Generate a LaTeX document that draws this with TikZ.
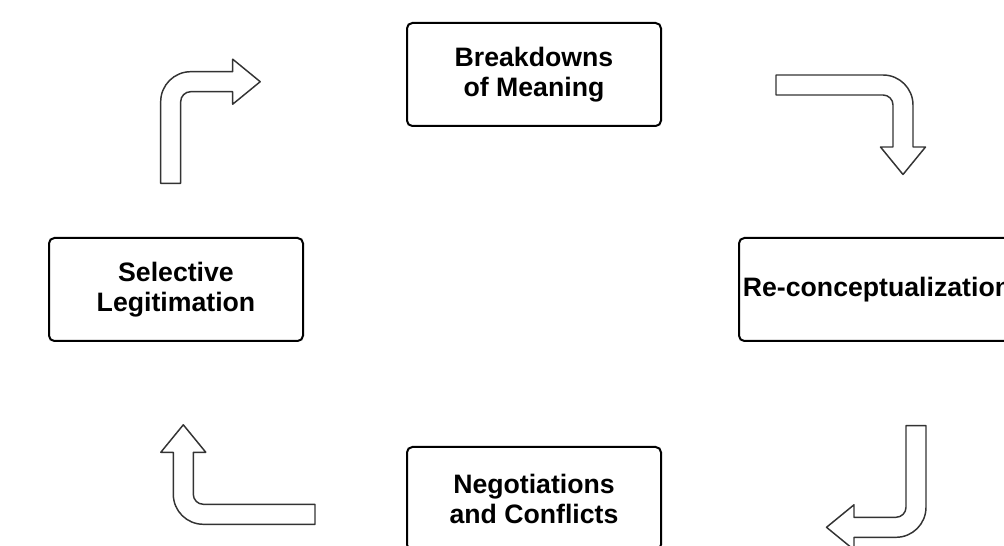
\documentclass[tikz,border=0pt]{standalone}
\usepackage{fontspec}
\setmainfont{Liberation Sans}

% bent block arrow, tail at the origin, first leg of length #1
\newcommand{\bentarrow}[1]{%
    \draw[bent arrow] (0,0) -- (0,#1-30) arc (180:90:30) -- (72,#1) -- (72,#1+12.5)
        -- (99.5,#1-10) -- (72,#1-32.5) -- (72,#1-20) -- (30,#1-20) arc (90:180:10)
        -- (20,0) -- cycle;}

\begin{document}
\begin{tikzpicture}[x=0.75pt, y=0.75pt,
    box/.style={draw, line width=1.5pt, rounded corners=4pt, minimum width=190.5pt,
        minimum height=77.25pt, align=center, inner sep=0pt,
        font=\bfseries\fontsize{20}{22.5}\selectfont},
    bent arrow/.style={draw=black!80, line width=1.1pt, line join=round}]
    \useasboundingbox (0,0) rectangle (1004,546);
    \clip (0,0) rectangle (1004,546);

    % Stages of the cycle
    \node[box] (breakdowns) at (534,471.5) {Breakdowns\\of Meaning};
    \node[box, minimum width=207pt] (reconcept) at (877,256.5) {Re-conceptualization};
    \node[box] (negotiations) at (534,47.5) {Negotiations\\and Conflicts};
    \node[box] (selective) at (176,256.5) {Selective\\Legitimation};

    % Arrows between the stages
    \begin{scope}[shift={(160.7,362.7)}]
        \bentarrow{111.6}
    \end{scope}
    \begin{scope}[shift={(776,471)}, rotate=-90]
        \bentarrow{137}
    \end{scope}
    \begin{scope}[shift={(926,120.3)}, rotate=180]
        \bentarrow{111.6}
    \end{scope}
    \begin{scope}[shift={(315,21.7)}, rotate=90]
        \bentarrow{141.7}
    \end{scope}
\end{tikzpicture}
\end{document}
